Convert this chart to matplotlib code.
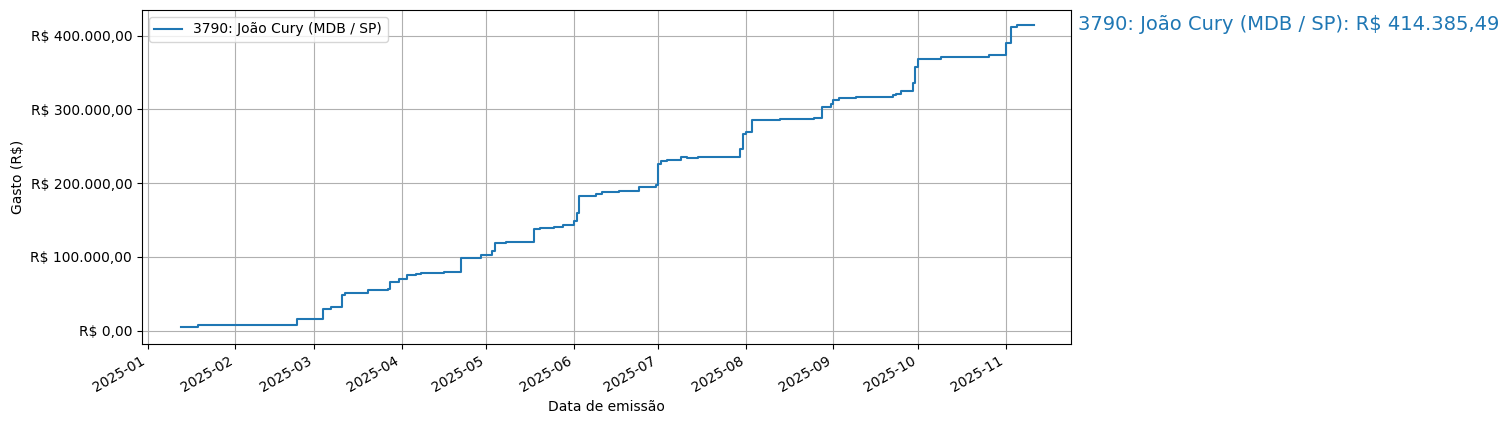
import matplotlib
matplotlib.use("Agg")
import matplotlib.pyplot as plt
import matplotlib.dates as mdates
import matplotlib.ticker as mticker
import pandas as pd

LABEL = "3790: João Cury (MDB / SP)"
TOTAL = 414385.49

DATES = [
    "2025-01-13", "2025-01-19", "2025-01-31", "2025-02-18", "2025-02-23",
    "2025-03-04", "2025-03-07", "2025-03-11", "2025-03-12", "2025-03-20",
    "2025-03-27", "2025-03-28", "2025-03-31", "2025-04-03", "2025-04-06",
    "2025-04-08", "2025-04-16", "2025-04-22", "2025-04-29", "2025-05-03",
    "2025-05-04", "2025-05-08", "2025-05-18", "2025-05-20", "2025-05-25",
    "2025-05-28", "2025-06-01", "2025-06-02", "2025-06-03", "2025-06-09",
    "2025-06-11", "2025-06-17", "2025-06-24", "2025-06-30", "2025-07-01",
    "2025-07-02", "2025-07-04", "2025-07-07", "2025-07-09", "2025-07-11",
    "2025-07-15", "2025-07-21", "2025-07-30", "2025-07-31", "2025-08-01",
    "2025-08-03", "2025-08-13", "2025-08-25", "2025-08-28", "2025-08-31",
    "2025-09-01", "2025-09-03", "2025-09-09", "2025-09-15", "2025-09-22",
    "2025-09-23", "2025-09-25", "2025-09-29", "2025-09-30", "2025-10-01",
    "2025-10-06", "2025-10-09", "2025-10-15", "2025-10-26", "2025-11-01",
    "2025-11-03", "2025-11-05", "2025-11-11",
]
GASTO = [
    4400, 8400, 7100, 8000, 16400,
    29700, 31600, 48400, 51600, 54700,
    56000, 65800, 69800, 75000, 77000,
    78700, 80000, 98000, 102700, 108000,
    119000, 120400, 138000, 139000, 141000,
    143600, 149000, 159000, 182700, 186000,
    188000, 189300, 195000, 197000, 225800,
    229800, 231000, 232000, 235000, 233700,
    235000, 236000, 247000, 267000, 269700,
    285700, 286700, 288000, 304000, 307000,
    312400, 315600, 316400, 317300, 319000,
    320400, 324400, 336000, 358000, 368400,
    369000, 370700, 371600, 373800, 390000,
    411600, 414385.49, 414385.49,
]


def brl(v, pos=None):
    s = f"{v:,.2f}".replace(",", "X").replace(".", ",").replace("X", ".")
    return f"R$ {s}"


dates = pd.to_datetime(DATES)
fig, ax = plt.subplots(figsize=(15.1, 4.3), dpi=100)
fig.subplots_adjust(left=0.094, right=0.709, top=0.977, bottom=0.185)

line, = ax.plot(dates, GASTO, drawstyle="steps-post", label=LABEL)
ax.yaxis.set_major_formatter(mticker.FuncFormatter(brl))
ax.xaxis.set_major_locator(mdates.MonthLocator())
ax.xaxis.set_major_formatter(mdates.DateFormatter("%Y-%m"))
ax.set_xlim(pd.Timestamp("2024-12-30"), pd.Timestamp("2025-11-24"))
ax.set_ylim(-18000, 435000)
ax.grid(True)
ax.set_xlabel("Data de emissão")
ax.set_ylabel("Gasto (R$)")
ax.legend(loc="upper left")
fig.autofmt_xdate()

fig.text(0.714, 0.942, f"{LABEL}: {brl(TOTAL)}", color=line.get_color(),
         fontsize=14, va="center", ha="left")

fig.savefig("out.png", dpi=100)
